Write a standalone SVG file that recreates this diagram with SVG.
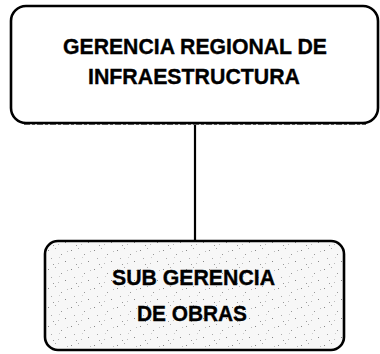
<svg xmlns="http://www.w3.org/2000/svg" width="380" height="354" viewBox="0 0 380 354">
  <style>
    .box { stroke: #000; stroke-width: 2.6; }
    .lbl { font-family: "Liberation Sans", Arial, sans-serif; font-weight: bold; font-size: 22px; fill: #000; stroke: #000; stroke-width: 0.35; text-anchor: middle; }
    .conn { stroke: #000; stroke-width: 2.2; fill: none; }
  </style>
  <defs>
    <pattern id="speckle" width="23" height="19" patternUnits="userSpaceOnUse">
      <rect width="23" height="19" fill="#f7f7f7"/>
      <rect x="2" y="3" width="1" height="1" fill="#888"/>
      <rect x="9" y="1" width="1" height="1" fill="#aaa"/>
      <rect x="15" y="7" width="1" height="1" fill="#999"/>
      <rect x="5" y="11" width="1" height="1" fill="#aaa"/>
      <rect x="19" y="14" width="1" height="1" fill="#888"/>
      <rect x="12" y="16" width="1" height="1" fill="#bbb"/>
      <rect x="21" y="4" width="1" height="1" fill="#bbb"/>
      <rect x="7" y="17" width="1" height="1" fill="#999"/>
      <rect x="13" y="10" width="1" height="1" fill="#ccc"/>
    </pattern>
  </defs>
  <g id="connectors">
    <line class="conn" x1="195" y1="123" x2="195" y2="241"/>
  </g>
  <g id="node-gerencia">
    <rect class="box" x="11" y="6" width="367" height="117" rx="15" ry="15" fill="#fff"/>
    <line x1="24" y1="124.5" x2="366" y2="124.5" stroke="#555" stroke-width="1.2" stroke-dasharray="6 2 3 2"/>
    <text class="lbl" x="195" y="53.5" textLength="264" lengthAdjust="spacingAndGlyphs">GERENCIA REGIONAL DE</text>
    <text class="lbl" x="194" y="84" textLength="212" lengthAdjust="spacingAndGlyphs">INFRAESTRUCTURA</text>
  </g>
  <g id="node-subgerencia">
    <rect class="box" x="45" y="241" width="299" height="109" rx="13" ry="13" fill="url(#speckle)"/>
    <text class="lbl" x="193.5" y="285" textLength="163" lengthAdjust="spacingAndGlyphs">SUB GERENCIA</text>
    <text class="lbl" x="192" y="320.5" textLength="110" lengthAdjust="spacingAndGlyphs">DE OBRAS</text>
  </g>
</svg>
